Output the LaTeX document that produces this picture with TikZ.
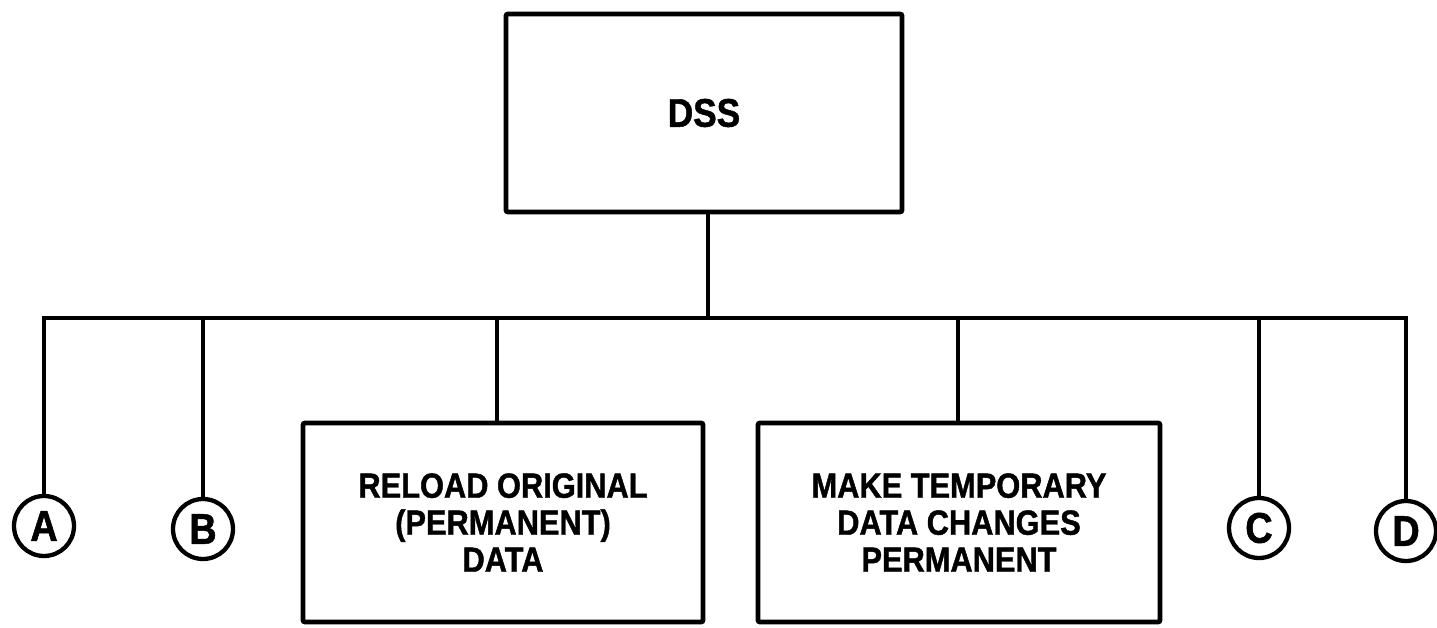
\documentclass[tikz,border=0pt]{standalone}
\usepackage{fontspec}
\setmainfont[FakeStretch=0.88,BoldFeatures={FakeBold=1.2}]{Liberation Sans}
\begin{document}
\begin{tikzpicture}[x=1pt,y=-1pt,
  box/.style={draw,line width=4.8pt,rounded corners=2pt,inner sep=0pt,align=center,font=\bfseries\fontsize{35}{37}\selectfont},
  letter/.style={draw,circle,line width=4.3pt,minimum size=60pt,inner sep=0pt,font=\bfseries\fontsize{43}{43}\selectfont},
  wire/.style={line width=4.8pt,line join=miter}]
\useasboundingbox (0,0) rectangle (1437,628);
\node[box,minimum width=396pt,minimum height=198pt,font=\bfseries\fontsize{40}{40}\selectfont] (dss) at (704,113) {DSS};
\node[box,minimum width=400pt,minimum height=199pt] (reload) at (503,522.5) {RELOAD ORIGINAL\\(PERMANENT)\\DATA};
\node[box,minimum width=402pt,minimum height=199pt] (make) at (959,522.5) {MAKE TEMPORARY\\DATA CHANGES\\PERMANENT};
\node[letter] (A) at (44,526) {A};
\node[letter] (B) at (203,529) {B};
\node[letter] (C) at (1259,528) {C};
\node[letter] (D) at (1406,531) {D};
\coordinate (bus) at (708,318);
\draw[wire] (A.north) |- (D.north |- bus) -- (D.north);
\draw[wire] (dss.south -| bus) -- (bus);
\draw[wire] (B.north) -- (B.north |- bus);
\draw[wire] (C.north) -- (C.north |- bus);
\draw[wire] (497,318) -- (497,0 |- reload.north);
\draw[wire] (958,318) -- (958,0 |- make.north);
\end{tikzpicture}
\end{document}
